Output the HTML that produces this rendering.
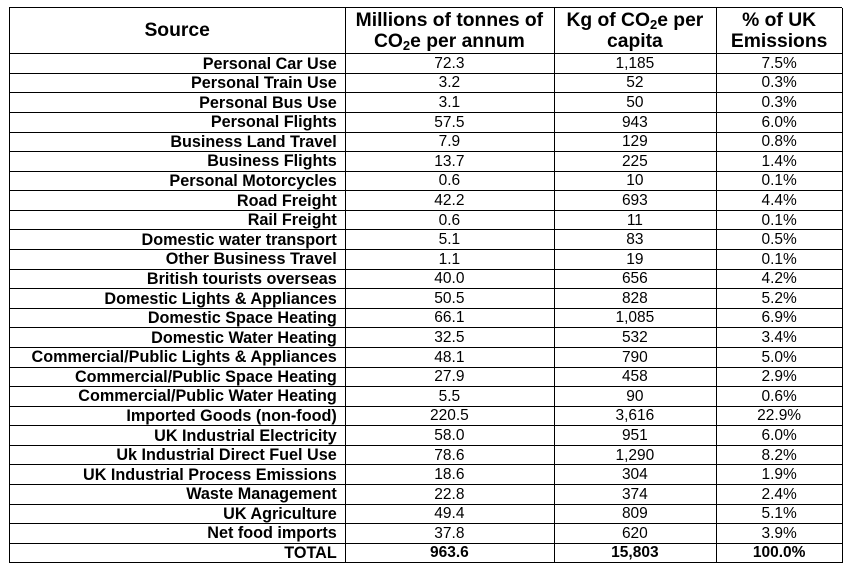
<!DOCTYPE html>
<html><head><meta charset="utf-8">
<style>
body{margin:0;background:#fff;width:850px;height:573px;overflow:hidden;font-family:"Liberation Sans",Arial,sans-serif;color:#000}
#tbl{position:absolute;left:0;top:0}
.c{position:absolute;box-sizing:border-box;border-right:1.5px solid #000;border-bottom:1.5px solid #000;display:flex;align-items:center;justify-content:center;font-size:15.5px;line-height:1;white-space:nowrap;padding-top:1px}
.h{font-size:19.3px;font-weight:bold;text-align:center;line-height:21px}
.src{justify-content:flex-end;padding-right:8px;font-weight:bold;font-size:16.2px}
.b{font-weight:bold}
sub{font-size:13px;vertical-align:-3px;line-height:0}
#frame{position:absolute;left:9px;top:7px;width:833px;height:556px;box-sizing:border-box;border-left:1.5px solid #000;border-top:1.5px solid #000}
</style></head><body>
<div id="frame"></div>
<div id="tbl"></div>
<script>
const sources=["Personal Car Use","Personal Train Use","Personal Bus Use","Personal Flights","Business Land Travel","Business Flights","Personal Motorcycles","Road Freight","Rail Freight","Domestic water transport","Other Business Travel","British tourists overseas","Domestic Lights & Appliances","Domestic Space Heating","Domestic Water Heating","Commercial/Public Lights & Appliances","Commercial/Public Space Heating","Commercial/Public Water Heating","Imported Goods (non-food)","UK Industrial Electricity","Uk Industrial Direct Fuel Use","UK Industrial Process Emissions","Waste Management","UK Agriculture","Net food imports","TOTAL"];
const tonnes=["72.3","3.2","3.1","57.5","7.9","13.7","0.6","42.2","0.6","5.1","1.1","40.0","50.5","66.1","32.5","48.1","27.9","5.5","220.5","58.0","78.6","18.6","22.8","49.4","37.8","963.6"];
const perCapita=["1,185","52","50","943","129","225","10","693","11","83","19","656","828","1,085","532","790","458","90","3,616","951","1,290","304","374","809","620","15,803"];
const percent=["7.5%","0.3%","0.3%","6.0%","0.8%","1.4%","0.1%","4.4%","0.1%","0.5%","0.1%","4.2%","5.2%","6.9%","3.4%","5.0%","2.9%","0.6%","22.9%","6.0%","8.2%","1.9%","2.4%","5.1%","3.9%","100.0%"];
const headers=["Source","Millions of tonnes of<br>CO<sub>2</sub>e per annum","Kg of CO<sub>2</sub>e per<br>capita","% of UK<br>Emissions"];
const colX=[9.5,345,554,716,842.5];
const top0=7.5, headH=46, rowH=19.58;
const tbl=document.getElementById('tbl');
const hNames=['header-source','header-tonnes','header-per-capita','header-percent'];
function cell(x,y,w,h,html,cls){
  const d=document.createElement('div');
  d.className='c '+cls;
  d.style.left=x+'px';d.style.top=y+'px';d.style.width=(w+0.75)+'px';d.style.height=(h+0.75)+'px';
  const s=document.createElement('span');
  s.innerHTML=html;d.appendChild(s);tbl.appendChild(d);return d;
}
for(let j=0;j<4;j++){
  const d=cell(colX[j],top0,colX[j+1]-colX[j],headH,headers[j],'h');
  
  
}
const cols=[sources,tonnes,perCapita,percent];
const cNames=['source','tonnes','per-capita','percent'];
for(let i=0;i<sources.length;i++){
  const y=top0+headH+i*rowH;
  const isTotal=i===sources.length-1;
  for(let j=0;j<4;j++){
    const d=cell(colX[j],y,colX[j+1]-colX[j],rowH,cols[j][i],(j===0?'src':'')+(isTotal?' b':''));
    
    
  }
}
</script>
</body></html>
